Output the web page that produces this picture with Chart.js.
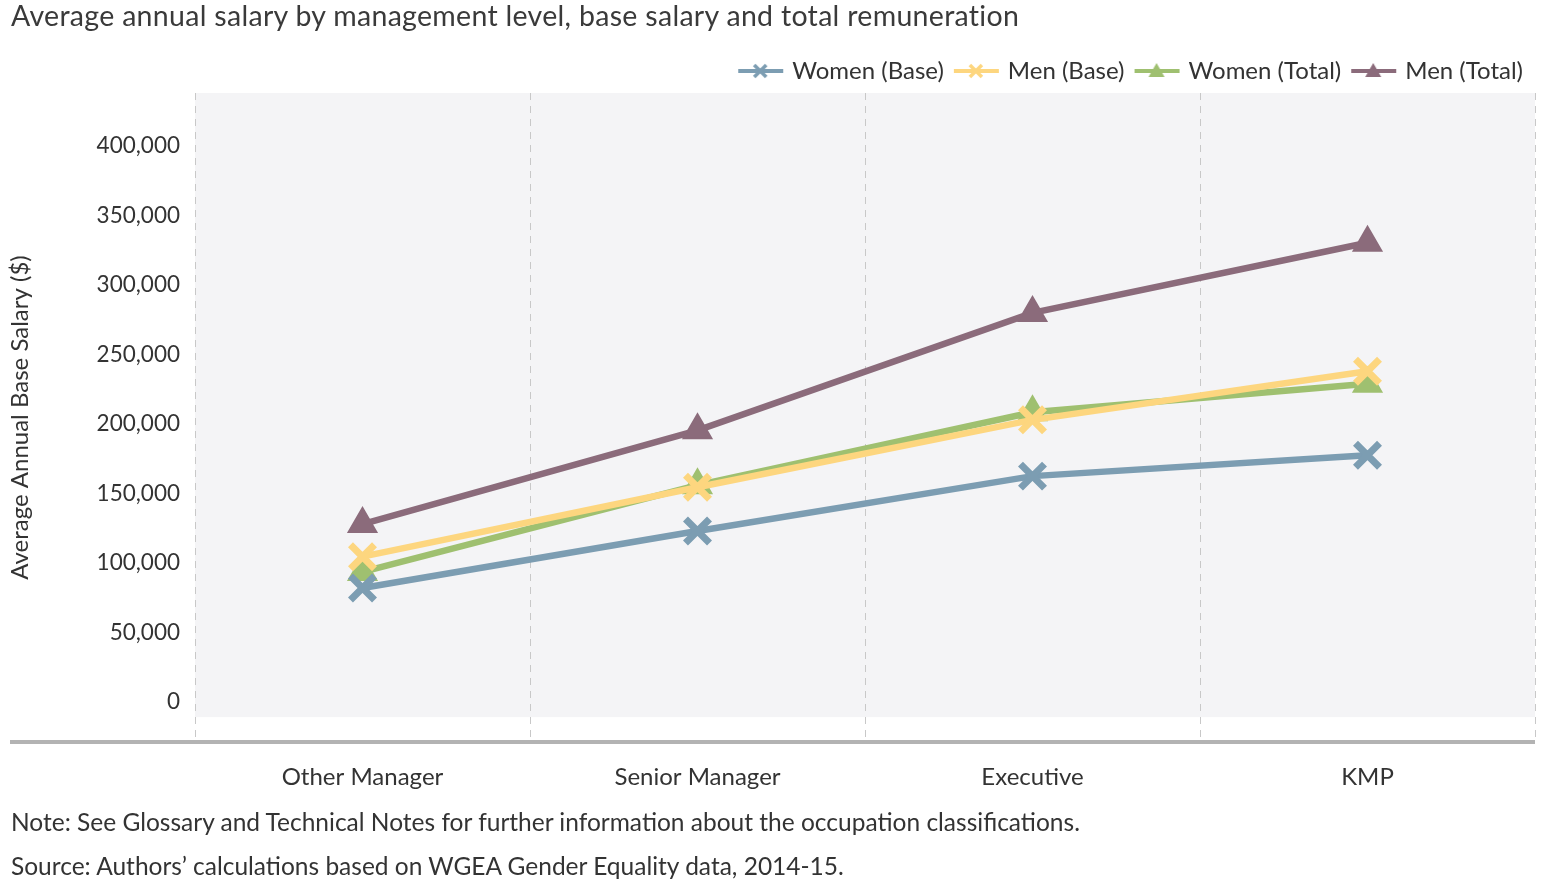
<!DOCTYPE html>
<html>
<head>
<meta charset="utf-8">
<script src="https://cdn.jsdelivr.net/npm/chart.js@4/dist/chart.umd.min.js"></script>
<style>
  body { margin: 0; background: #fff; font-family: Lato, sans-serif; color: #333; }
  #wrap { position: relative; width: 1566px; height: 894px; overflow: hidden; }
  #c { position: absolute; left: 0; top: 0; }
  .txt { position: absolute; left: 11px; white-space: nowrap; color: #333; }
  #title { top: -2px; font-size: 28.5px; letter-spacing: 0.3px; color: #3a3a3a; }
  #note { top: 807px; font-size: 24.5px; }
  #source { top: 851px; font-size: 24.5px; }
</style>
</head>
<body>
<div id="wrap">
  <canvas id="c" width="1566" height="894"></canvas>
  <div class="txt" id="title">Average annual salary by management level, base salary and total remuneration</div>
  <div class="txt" id="note">Note: See Glossary and Technical Notes for further information about the occupation classifications.</div>
  <div class="txt" id="source">Source: Authors’ calculations based on WGEA Gender Equality data, 2014-15.</div>
</div>
<script>
const categories = ['Other Manager', 'Senior Manager', 'Executive', 'KMP'];
const womenBase = [82000, 123000, 162500, 177500];
const menBase = [104500, 154500, 203000, 238000];
const womenTotal = [93500, 156000, 208500, 229000];
const menTotal = [128000, 195500, 280000, 330500];
const yTicks = [0, 50000, 100000, 150000, 200000, 250000, 300000, 350000, 400000];

const BLUE = '#7c9db2';
const YELLOW = '#fdd67f';
const GREEN = '#9fc070';
const MAUVE = '#8b6b7b';

// small legend icon: line with marker in the middle
function legendIcon(color, marker) {
    const cv = document.createElement('canvas');
    cv.width = 50;
    cv.height = 22;
    const g = cv.getContext('2d');
    g.strokeStyle = color;
    g.fillStyle = color;
    g.lineWidth = 4;
    g.beginPath();
    g.moveTo(3, 11);
    g.lineTo(48, 11);
    g.stroke();
    if (marker === 'x') {
        g.lineWidth = 3.5;
        g.beginPath();
        g.moveTo(19, 5); g.lineTo(31, 17);
        g.moveTo(31, 5); g.lineTo(19, 17);
        g.stroke();
    } else {
        g.beginPath();
        g.moveTo(25, 3);
        g.lineTo(33, 17);
        g.lineTo(17, 17);
        g.closePath();
        g.fill();
    }
    return cv;
}

const plotBg = {
    id: 'plotBg',
    beforeDraw(chart) {
        const { ctx, chartArea } = chart;
        const yScale = chart.scales.y;
        const bottom = yScale.getPixelForValue(-11000);
        ctx.save();
        ctx.fillStyle = '#f4f4f6';
        ctx.fillRect(chartArea.left, chartArea.top, chartArea.right - chartArea.left, bottom - chartArea.top);
        ctx.restore();
    },
    afterDraw(chart) {
        const { ctx, chartArea } = chart;
        ctx.save();
        ctx.strokeStyle = '#b3b3b3';
        ctx.lineWidth = 4;
        ctx.beginPath();
        ctx.moveTo(10, chartArea.bottom);
        ctx.lineTo(chartArea.right, chartArea.bottom);
        ctx.stroke();
        ctx.restore();
    }
};

function series(label, data, color, style) {
    const isX = style === 'crossRot';
    return {
        label: label,
        data: data,
        borderColor: color,
        backgroundColor: color,
        borderWidth: 6.5,
        pointStyle: style,
        pointRadius: isX ? 17 : 16,
        pointBorderWidth: isX ? 7 : 2,
        pointBackgroundColor: color,
        pointBorderColor: color,
        tension: 0,
        legendIcon: legendIcon(color, isX ? 'x' : 't')
    };
}

new Chart(document.getElementById('c'), {
    type: 'line',
    data: {
        labels: categories,
        datasets: [
            series('Women (Base)', womenBase, BLUE, 'crossRot'),
            series('Men (Base)', menBase, YELLOW, 'crossRot'),
            series('Women (Total)', womenTotal, GREEN, 'triangle'),
            series('Men (Total)', menTotal, MAUVE, 'triangle')
        ]
    },
    options: {
        responsive: false,
        devicePixelRatio: 1,
        animation: false,
        layout: { padding: { top: 47, right: 31, bottom: 92, left: 0 } },
        plugins: {
            tooltip: { enabled: false },
            legend: {
                position: 'top',
                align: 'end',
                labels: {
                    usePointStyle: true,
                    pointStyleWidth: 40,
                    padding: 12,
                    color: '#333',
                    font: { family: 'Lato', size: 24 },
                    generateLabels(chart) {
                        return chart.data.datasets.map((ds, i) => ({
                            text: ds.label,
                            pointStyle: ds.legendIcon,
                            fillStyle: ds.borderColor,
                            strokeStyle: ds.borderColor,
                            lineWidth: 0,
                            fontColor: '#333',
                            hidden: false,
                            datasetIndex: i
                        }));
                    }
                }
            }
        },
        scales: {
            x: {
                offset: true,
                grid: {
                    offset: true,
                    color: '#c8c8c8',
                    lineWidth: 1,
                    drawTicks: false
                },
                border: { display: false, dash: [7, 6] },
                ticks: {
                    color: '#333',
                    padding: 21,
                    font: { family: 'Lato', size: 24 }
                },
                afterFit(s) { s.height = 60; }
            },
            y: {
                min: -28900,
                max: 438300,
                grid: { display: false, drawTicks: false },
                border: { display: false },
                afterBuildTicks(s) { s.ticks = yTicks.map(v => ({ value: v })); },
                ticks: {
                    color: '#333',
                    padding: 15,
                    font: { family: 'Lato', size: 22.5 },
                    callback: v => v.toLocaleString('en-US')
                },
                title: {
                    display: true,
                    text: 'Average Annual Base Salary ($)',
                    color: '#333',
                    padding: { top: 6, bottom: 0 },
                    font: { family: 'Lato', size: 24 }
                },
                afterFit(s) { s.width = 195; }
            }
        }
    },
    plugins: [plotBg]
});
</script>
</body>
</html>
